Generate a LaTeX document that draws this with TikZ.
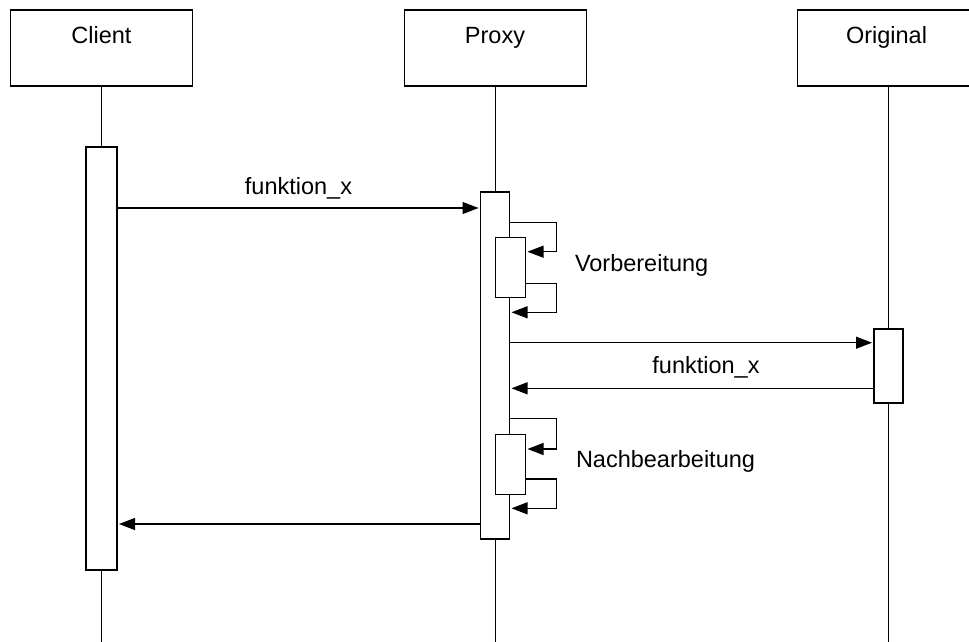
\documentclass[tikz,border=0pt]{standalone}
\usepackage{fontspec}
\setmainfont{Liberation Sans}
\usetikzlibrary{arrows.meta}

\begin{document}
\begin{tikzpicture}[x=1pt,y=-1pt,
  line width=1.1pt,
  every node/.style={inner sep=0pt, outer sep=0pt},
  head/.style={draw, fill=white, minimum width=182pt, minimum height=76pt},
  act/.style={draw, fill=white, minimum width=30pt},
  txt/.style={font=\fontsize{23.5}{26}\selectfont, anchor=base},
  life/.style={draw},
  msg/.style={-{Triangle[length=16pt,width=12pt]}, shorten >=2pt},
]
  % canvas
  \fill[white] (0,0) rectangle (969,641);
  \useasboundingbox (0,0) rectangle (969,641);
  \clip (0,0) rectangle (969,641);

  % object heads
  \node[head] (client) at (101.5,48) {};
  \node[head] (proxy) at (495.5,48) {};
  \node[head] (orig) at (888.5,48) {};
  \node[txt] (clientt) at (101.5,43) {Client};
  \node[txt] (proxyt) at (495,43) {Proxy};
  \node[txt] (origt) at (886.5,43) {Original};

  % lifeline ends
  \coordinate (clientend) at (101.5,650);
  \coordinate (proxyend) at (495.5,650);
  \coordinate (origend) at (888.5,650);
  \draw[life] (client.south) -- (clientend);
  \draw[life] (proxy.south) -- (proxyend);
  \draw[life] (orig.south) -- (origend);

  % activations
  \node[act, minimum width=31pt, minimum height=423pt] (ca) at (101.5,358.5) {};
  \node[act, minimum width=29pt, minimum height=347pt] (pa) at (495,365.5) {};
  \node[act, minimum height=60pt] (pv) at (510.5,267.5) {};
  \node[act, minimum height=60pt] (pn) at (510.5,464.3) {};
  \node[act, minimum width=29pt, minimum height=74pt] (oa) at (888.5,366) {};

  % message rows
  \coordinate (r1) at (0,208);
  \coordinate (r2) at (0,342.7);
  \coordinate (r3) at (0,388.3);
  \coordinate (r4) at (0,524);
  \coordinate (s1) at (0,222.3);
  \coordinate (s1e) at (0,251.7);
  \coordinate (s2) at (0,283.7);
  \coordinate (s2e) at (0,312.3);
  \coordinate (s3) at (0,418.3);
  \coordinate (s3e) at (0,449);
  \coordinate (s4) at (0,479);
  \coordinate (s4e) at (0,508.3);
  \coordinate (lx) at (556.5,0);

  % calls and returns
  \draw[msg] (ca.east |- r1) -- (pa.west |- r1);
  \draw[msg] (pa.east |- r2) -- (oa.west |- r2);
  \draw[msg] (oa.west |- r3) -- (pa.east |- r3);
  \draw[msg] (pa.west |- r4) -- (ca.east |- r4);

  % self calls
  \draw[msg] (pa.east |- s1) -- (lx |- s1) -- (lx |- s1e) -- (pv.east |- s1e);
  \draw[msg] (pv.east |- s2) -- (lx |- s2) -- (lx |- s2e) -- (pa.east |- s2e);
  \draw[msg] (pa.east |- s3) -- (lx |- s3) -- (lx |- s3e) -- (pn.east |- s3e);
  \draw[msg] (pn.east |- s4) -- (lx |- s4) -- (lx |- s4e) -- (pa.east |- s4e);

  % labels
  \node[txt] (l1) at (298.5,194.3) {funktion\_x};
  \node[txt] (l2) at (706,373) {funktion\_x};
  \node[txt, anchor=base west] (l3) at (575,271) {Vorbereitung};
  \node[txt, anchor=base west] (l4) at (576,467) {Nachbearbeitung};
\end{tikzpicture}
\end{document}
